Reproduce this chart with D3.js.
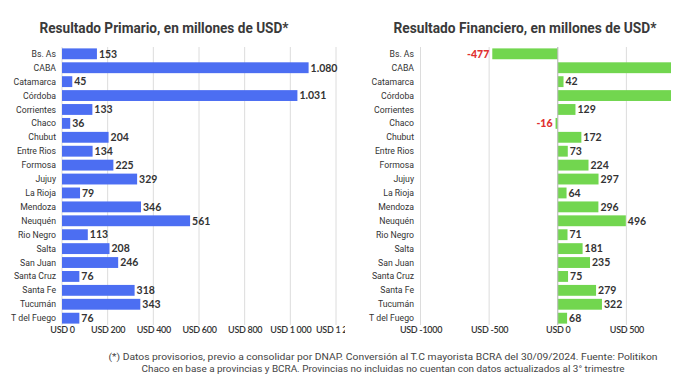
<!DOCTYPE html>
<html>
<head>
<meta charset="utf-8">
<script src="https://cdn.jsdelivr.net/npm/d3@7"></script>
<style>
  body { margin: 0; background: #fff; }
  svg { display: block; }
</style>
</head>
<body>
<div id="chart"></div>
<script>
// provinces (same order in both panels)
var provincias = ["Bs. As", "CABA", "Catamarca", "Córdoba", "Corrientes", "Chaco", "Chubut",
  "Entre Rios", "Formosa", "Jujuy", "La Rioja", "Mendoza", "Neuquén", "Rio Negro", "Salta",
  "San Juan", "Santa Cruz", "Santa Fe", "Tucumán", "T del Fuego"];

// resultado primario (millones USD)
var primario = [153, 1080, 45, 1031, 133, 36, 204, 134, 225, 329, 79, 346, 561, 113, 208, 246, 76, 318, 343, 76];
// resultado financiero (millones USD); CABA and Córdoba run past the axis, no label shown
var financiero = [-477, 1000, 42, 980, 129, -16, 172, 73, 224, 297, 64, 296, 496, 71, 181, 235, 75, 279, 322, 68];

var ticksPrim = [0, 200, 400, 600, 800, 1000, 1200];
var tickLabelsPrim = ["USD 0", "USD 200", "USD 400", "USD 600", "USD 800", "USD 1 000", "USD 1 200"];
var ticksFin = [-1000, -500, 0, 500];
var tickLabelsFin = ["USD -1000", "USD -500", "USD 0", "USD 500"];

var svgWidth = 690, svgHeight = 388;
var svg = d3.select("#chart").append("svg")
  .attr("width", svgWidth)
  .attr("height", svgHeight);

var esFmt = d3.formatLocale({ decimal: ",", thousands: ".", grouping: [3], currency: ["", ""], minus: "-" }).format(",");

var defs = svg.append("defs");

function drawPanel(opts) {
  defs.append("clipPath").attr("id", opts.id)
    .append("rect")
    .attr("x", opts.clip[0]).attr("y", 0)
    .attr("width", opts.clip[1] - opts.clip[0]).attr("height", svgHeight);

  var g = svg.append("g").attr("clip-path", "url(#" + opts.id + ")");

  var x = d3.scaleLinear().domain(opts.domain).range(opts.range);
  var y = d3.scaleBand().domain(provincias).range([47, 325]).paddingInner(0.22).paddingOuter(0.1);

  // title
  g.append("text")
    .attr("x", opts.titleX).attr("y", 33)
    .attr("text-anchor", "middle")
    .attr("font-family", "Roboto, sans-serif")
    .attr("font-weight", "bold")
    .attr("font-size", "14.5px")
    .attr("fill", "#3a3a3a")
    .attr("textLength", opts.titleW)
    .attr("lengthAdjust", "spacingAndGlyphs")
    .text(opts.title);

  // grid
  g.append("g").selectAll("line")
    .data(opts.ticks)
    .enter().append("line")
    .attr("x1", d => x(d)).attr("x2", d => x(d))
    .attr("y1", 47).attr("y2", 325)
    .attr("stroke", "#dcdcdc")
    .attr("stroke-width", 1);

  // x axis labels
  var xAxis = d3.axisBottom(x).tickValues(opts.ticks)
    .tickFormat((d, i) => opts.tickLabels[i]).tickSize(0).tickPadding(0);
  var ax = g.append("g").attr("transform", "translate(0, 325)").call(xAxis);
  ax.select(".domain").remove();
  ax.selectAll("text")
    .attr("dy", "0.7em")
    .attr("y", 2)
    .attr("font-family", "Lato, sans-serif")
    .attr("font-weight", "600")
    .attr("font-size", "9px")
    .attr("letter-spacing", "-0.3px")
    .attr("fill", "#333");

  // category labels
  g.append("g").selectAll("text")
    .data(provincias)
    .enter().append("text")
    .attr("x", opts.labelX)
    .attr("y", d => y(d) + y.bandwidth() / 2)
    .attr("dy", "0.35em")
    .attr("text-anchor", "end")
    .attr("font-family", "Roboto, sans-serif")
    .attr("font-size", "8.7px")
    .attr("fill", "#333")
    .text(d => d);

  // bars
  var x0 = x(0);
  g.append("g").selectAll("rect")
    .data(opts.values)
    .enter().append("rect")
    .attr("x", d => Math.min(x(d), x0))
    .attr("y", (d, i) => y(provincias[i]))
    .attr("width", d => Math.abs(x(Math.min(d, opts.domain[1])) - x0))
    .attr("height", y.bandwidth())
    .attr("fill", opts.color);

  if (opts.zeroLine) {
    g.append("line")
      .attr("x1", x0).attr("x2", x0)
      .attr("y1", 47).attr("y2", 325)
      .attr("stroke", "#bbb").attr("stroke-width", 1);
  }

  // value labels
  g.append("g").selectAll("text")
    .data(opts.values.map((v, i) => ({ v: v, p: provincias[i] })).filter(d => d.v <= opts.domain[1]))
    .enter().append("text")
    .attr("x", d => d.v < 0 ? x(d.v) - 3 : x(d.v) + 2)
    .attr("y", d => y(d.p) + y.bandwidth() / 2)
    .attr("dy", "0.36em")
    .attr("text-anchor", d => d.v < 0 ? "end" : "start")
    .attr("font-family", "Lato, sans-serif")
    .attr("font-weight", d => d.v < 0 ? "900" : "bold")
    .attr("font-size", "10.5px")
    .attr("fill", d => d.v < 0 ? "#e0302f" : "#333")
    .text(d => esFmt(d.v));
}

drawPanel({
  id: "clipPrim",
  clip: [0, 345],
  title: "Resultado Primario, en millones de USD*",
  titleX: 164,
  titleW: 249,
  domain: [0, 1200],
  range: [62, 336],
  ticks: ticksPrim,
  tickLabels: tickLabelsPrim,
  values: primario,
  labelX: 56,
  color: "#4c6ef2",
  zeroLine: false
});

drawPanel({
  id: "clipFin",
  clip: [345, 690],
  title: "Resultado Financiero, en millones de USD*",
  titleX: 525,
  titleW: 263,
  domain: [-1000, 825],
  range: [420.5, 671],
  ticks: ticksFin,
  tickLabels: tickLabelsFin,
  values: financiero,
  labelX: 414,
  color: "#72d64f",
  zeroLine: true
});

// footnote
var nota = [
  "(*) Datos provisorios, previo a consolidar por DNAP. Conversión al T.C mayorista BCRA del 30/09/2024. Fuente: Politikon",
  "Chaco en base a provincias y BCRA. Provincias no incluidas no cuentan con datos actualizados al 3° trimestre"
];
svg.append("g").selectAll("text")
  .data(nota)
  .enter().append("text")
  .attr("x", 383)
  .attr("y", (d, i) => 360 + i * 12)
  .attr("text-anchor", "middle")
  .attr("font-family", "Roboto, sans-serif")
  .attr("font-size", "9.5px")
  .attr("fill", "#444")
  .attr("textLength", (d, i) => i === 0 ? 549 : 483)
  .attr("lengthAdjust", "spacingAndGlyphs")
  .text(d => d);
</script>
</body>
</html>
